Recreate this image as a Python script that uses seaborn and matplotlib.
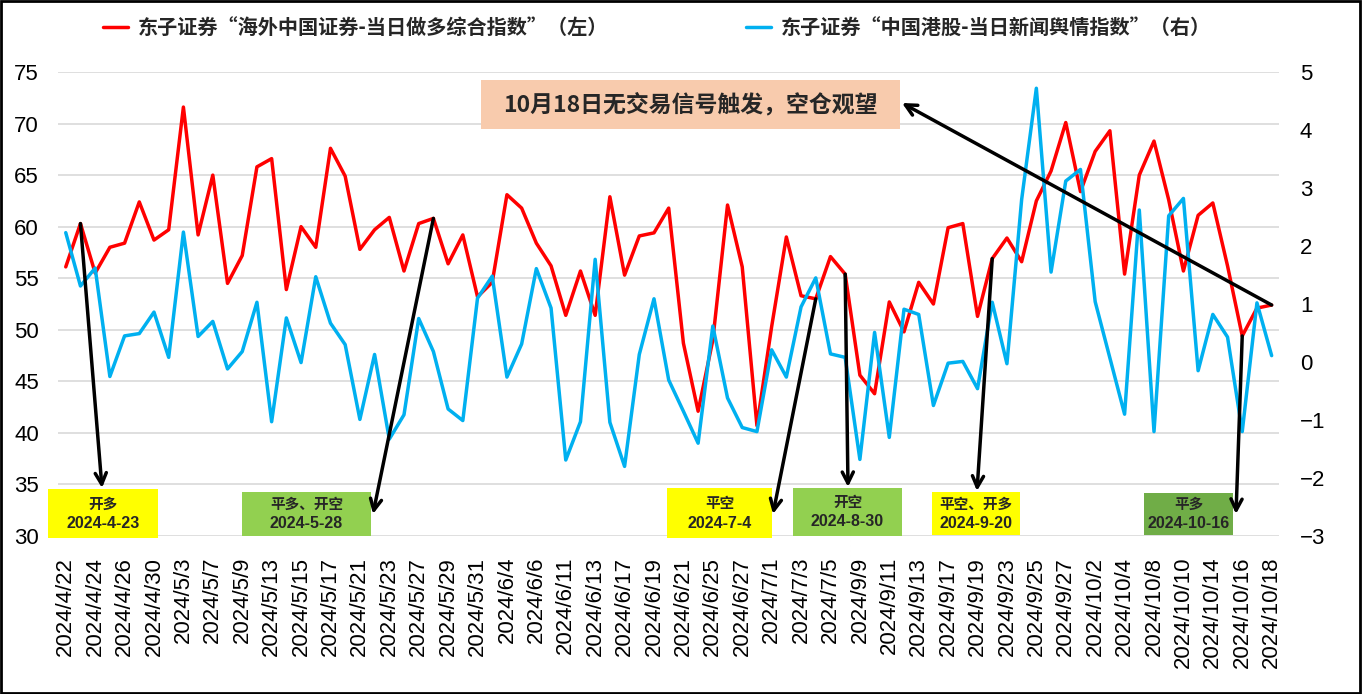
import matplotlib
matplotlib.use("Agg")
import numpy as np
import pandas as pd
import matplotlib.pyplot as plt
from matplotlib.patches import Rectangle
from matplotlib.font_manager import FontProperties
import seaborn as sns

# 交易日（7/5 与 9/9 之间只保留 8/30）
dates = [
    "2024/4/22", "2024/4/23", "2024/4/24", "2024/4/25", "2024/4/26", "2024/4/29", "2024/4/30",
    "2024/5/2", "2024/5/3", "2024/5/6", "2024/5/7", "2024/5/8", "2024/5/9", "2024/5/10",
    "2024/5/13", "2024/5/14", "2024/5/15", "2024/5/16", "2024/5/17", "2024/5/20", "2024/5/21",
    "2024/5/22", "2024/5/23", "2024/5/24", "2024/5/27", "2024/5/28", "2024/5/29", "2024/5/30",
    "2024/5/31", "2024/6/3", "2024/6/4", "2024/6/5", "2024/6/6", "2024/6/7", "2024/6/11",
    "2024/6/12", "2024/6/13", "2024/6/14", "2024/6/17", "2024/6/18", "2024/6/19", "2024/6/20",
    "2024/6/21", "2024/6/24", "2024/6/25", "2024/6/26", "2024/6/27", "2024/6/28", "2024/7/1",
    "2024/7/2", "2024/7/3", "2024/7/4", "2024/7/5", "2024/8/30", "2024/9/9", "2024/9/10",
    "2024/9/11", "2024/9/12", "2024/9/13", "2024/9/16", "2024/9/17", "2024/9/18", "2024/9/19",
    "2024/9/20", "2024/9/23", "2024/9/24", "2024/9/25", "2024/9/26", "2024/9/27", "2024/9/30",
    "2024/10/2", "2024/10/3", "2024/10/4", "2024/10/7", "2024/10/8", "2024/10/9", "2024/10/10",
    "2024/10/11", "2024/10/14", "2024/10/15", "2024/10/16", "2024/10/17", "2024/10/18",
]

# 海外中国证券-当日做多综合指数（左轴）
long_index = [
    56.1, 60.3, 55.5, 58.0, 58.4, 62.4, 58.7, 59.7, 71.6, 59.2, 65.0, 54.5, 57.2, 65.8,
    66.6, 53.9, 60.0, 58.0, 67.6, 64.9, 57.8, 59.7, 60.9, 55.7, 60.3, 60.8, 56.4, 59.2,
    53.2, 54.6, 63.1, 61.8, 58.4, 56.2, 51.4, 55.7, 51.4, 62.9, 55.3, 59.1, 59.4, 61.8,
    48.7, 42.1, 49.0, 62.1, 56.1, 40.7, 50.3, 59.0, 53.3, 53.0, 57.1, 55.4, 45.6, 43.8,
    52.7, 49.8, 54.6, 52.5, 59.9, 60.3, 51.3, 56.9, 58.9, 56.6, 62.5, 65.4, 70.1, 63.4,
    67.3, 69.3, 55.4, 65.0, 68.3, 62.6, 55.7, 61.1, 62.3, 56.2, 49.4, 52.1, 52.4,
]

# 中国港股-当日新闻舆情指数（右轴）
news_index = [
    2.23, 1.31, 1.62, -0.25, 0.45, 0.49, 0.86, 0.08, 2.24, 0.44, 0.70, -0.12, 0.18, 1.03,
    -1.03, 0.76, -0.01, 1.47, 0.67, 0.30, -0.99, 0.13, -1.33, -0.91, 0.75, 0.18, -0.81, -1.01,
    1.10, 1.48, -0.26, 0.31, 1.61, 0.93, -1.69, -1.03, 1.77, -1.04, -1.80, 0.13, 1.09, -0.31,
    -0.85, -1.40, 0.62, -0.62, -1.13, -1.20, 0.21, -0.26, 0.95, 1.45, 0.14, 0.08, -1.68, 0.51,
    -1.30, 0.91, 0.82, -0.75, -0.02, 0.01, -0.46, 1.03, -0.03, 2.80, 4.72, 1.55, 3.12, 3.32,
    1.04, 0.07, -0.90, 2.62, -1.20, 2.52, 2.82, -0.15, 0.82, 0.43, -1.20, 1.02, 0.11,
]

# 交易信号
signal_actions = ["开多", "平多、开空", "平空", "开空", "平空、开多", "平多"]
signal_dates = ["2024-4-23", "2024-5-28", "2024-7-4", "2024-8-30", "2024-9-20", "2024-10-16"]
signal_points = ["2024/4/23", "2024/5/28", "2024/7/4", "2024/8/30", "2024/9/20", "2024/10/16"]
note_text = "10月18日无交易信号触发，空仓观望"

label_long = "东子证券“海外中国证券-当日做多综合指数”（左）"
label_news = "东子证券“中国港股-当日新闻舆情指数”（右）"

RED = "#FF0000"
BLUE = "#00B0F0"
CJK = ["Noto Sans CJK SC", "DejaVu Sans"]
LATIN = ["Liberation Sans", "DejaVu Sans"]

df = pd.DataFrame({"date": dates, "long": long_index, "news": news_index})
df["pos"] = np.arange(len(df))

sns.set_theme(style="white")
plt.rcParams["font.family"] = CJK
plt.rcParams["axes.unicode_minus"] = True

W, H = 1363, 694
fig = plt.figure(figsize=(W / 100, H / 100), dpi=100)
AX_L, AX_R, AX_T, AX_B = 58.4, 1279.0, 72.0, 536.0
ax = fig.add_axes([AX_L / W, 1 - AX_B / H, (AX_R - AX_L) / W, (AX_B - AX_T) / H])
ax2 = ax.twinx()

sns.lineplot(data=df, x="pos", y="long", ax=ax, color=RED, linewidth=2.5, legend=False)
sns.lineplot(data=df, x="pos", y="news", ax=ax2, color=BLUE, linewidth=2.5, legend=False)

ax.set_xlim(-0.5, len(df) - 0.5)
ax.set_ylim(30, 75)
ax2.set_ylim(-3, 5)
ax.set_yticks(np.arange(30, 76, 5))
ax2.set_yticks(np.arange(-3, 6, 1))
ax.set_xticks(df["pos"][::2])
ax.set_xticklabels(df["date"][::2], rotation=90, va="top", ha="center")
ax.set_xlabel("")
ax.set_ylabel("")
ax2.set_ylabel("")

ax.yaxis.grid(True, color="#D9D9D9", linewidth=1.2)
ax.xaxis.grid(False)
ax2.grid(False)
for a in (ax, ax2):
    for sp in a.spines.values():
        sp.set_visible(False)
ax.tick_params(axis="x", length=0, pad=15)
ax.tick_params(axis="y", length=0, pad=14)
ax2.tick_params(axis="y", length=0, pad=15)
for lab in ax.get_xticklabels():
    lab.set_fontfamily(LATIN)
    lab.set_fontsize(16)
    lab.set_color("black")
for lab in ax.get_yticklabels() + ax2.get_yticklabels():
    lab.set_fontfamily(LATIN)
    lab.set_fontsize(16)
    lab.set_color("black")


def frac(px, py):
    """像素坐标 -> 坐标轴比例坐标"""
    return ((px - AX_L) / (AX_R - AX_L), (AX_B - py) / (AX_B - AX_T))


# 信号框位置（像素：左, 上, 右, 下）、箭头终点、底色
box_px = [
    (48, 489, 158, 538), (242, 492, 371, 536), (667, 488, 772, 538),
    (793, 488, 902, 536), (932, 492, 1020, 535), (1144, 493, 1233, 535),
]
tip_px = [(102, 488), (373, 514), (773, 514), (848, 487), (977, 491), (1236, 514)]
box_colors = ["#FFFF00", "#92D050", "#FFFF00", "#92D050", "#FFFF00", "#70AD47"]

arrow_kw = dict(arrowstyle="->", color="black", lw=2.5, mutation_scale=20,
                shrinkA=0, shrinkB=0)

for action, sdate, point, (x0, y0, x1, y1), tip, bc in zip(
        signal_actions, signal_dates, signal_points, box_px, tip_px, box_colors):
    fx0, fy1 = frac(x0, y1)
    fx1, fy0 = frac(x1, y0)
    ax2.add_patch(Rectangle((fx0, fy1), fx1 - fx0, fy0 - fy1, transform=ax2.transAxes,
                            facecolor=bc, edgecolor="none", clip_on=False, zorder=5))
    cx = (fx0 + fx1) / 2
    cy = (y0 + y1) / 2
    ax2.text(cx, frac(0, cy - 10)[1], action, transform=ax2.transAxes, ha="center",
             va="center", fontsize=10.5, fontweight="bold", family=CJK, zorder=6)
    ax2.text(cx, frac(0, cy + 10)[1], sdate, transform=ax2.transAxes, ha="center",
             va="center", fontsize=11.5, fontweight="bold", family=LATIN, zorder=6)
    i = dates.index(point)
    ax2.annotate("", xy=frac(*tip), xycoords="axes fraction",
                 xytext=(i, long_index[i]), textcoords=ax.transData,
                 arrowprops=arrow_kw, zorder=7, annotation_clip=False)

# 10月18日说明框
nx0, ny1 = frac(481, 129)
nx1, ny0 = frac(900, 80)
ax2.add_patch(Rectangle((nx0, ny1), nx1 - nx0, ny0 - ny1, transform=ax2.transAxes,
                        facecolor="#F8CBAD", edgecolor="none", clip_on=False, zorder=5))
ax2.text((nx0 + nx1) / 2, (ny0 + ny1) / 2, note_text, transform=ax2.transAxes,
         ha="center", va="center", fontsize=16.5, fontweight="bold", family=CJK, zorder=6)
last = len(dates) - 1
ax2.annotate("", xy=frac(902, 103), xycoords="axes fraction",
             xytext=(last, long_index[last]), textcoords=ax.transData,
             arrowprops=arrow_kw, zorder=7, annotation_clip=False)

# 图例（左右各一）
leg_prop = FontProperties(family=CJK, weight="bold", size=14.5)
for handle, text, lx in [(ax.lines[0], label_long, 103), (ax2.lines[0], label_news, 746)]:
    leg = fig.legend([handle], [text], loc="center left", bbox_to_anchor=(lx / W, 1 - 28 / H),
                     frameon=False, borderpad=0, borderaxespad=0, handlelength=1.25,
                     handletextpad=0.5, prop=leg_prop)

# 外框
fig.patches.append(Rectangle((0.001, 0.002), 0.997, 0.996, transform=fig.transFigure,
                             fill=False, edgecolor="black", linewidth=2))

fig.savefig("out.png", dpi=100)
